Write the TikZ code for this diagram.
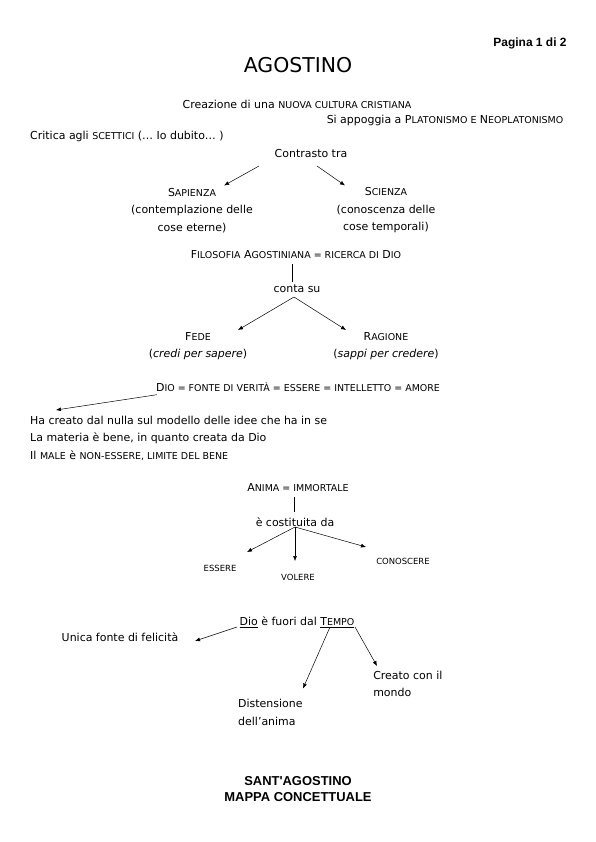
\documentclass[tikz,border=0pt]{standalone}
\usepackage{fontspec}
\setmainfont{DejaVu Sans}
\newfontfamily\headfont{Liberation Sans}
\usetikzlibrary{positioning, calc, arrows.meta}
\newcommand{\sk}[1]{{\fontsize{9.5}{17.5}\selectfont #1}}
\newcommand{\skk}[1]{{\fontsize{8.5}{12}\selectfont #1}}

\begin{document}
\begin{tikzpicture}[x=1bp, y=-1bp, >={Latex[length=5pt,width=4pt]}, line width=0.5pt]
        \tikzstyle{txt}=[inner sep=1pt, font=\fontsize{11}{17.5}\selectfont];
        \tikzstyle{block}=[txt, align=center];
        \tikzstyle{head}=[inner sep=1pt, font=\headfont\bfseries\fontsize{13}{16}\selectfont, align=center];
        \useasboundingbox (0,0) rectangle (596,842);

        % testata
        \node[head, font=\headfont\bfseries\fontsize{12}{14}\selectfont] (pagina) at (530,43) {Pagina 1 di 2};
        \node[inner sep=1pt, font=\fontsize{20.5}{24}\selectfont] (titolo) at (298,65) {AGOSTINO};

        % premesse
        \node[txt] (creazione) at (297,104) {Creazione di una \sk{NUOVA CULTURA CRISTIANA}};
        \node[txt] (appoggia) at (445,120) {Si appoggia a P\sk{LATONISMO E} N\sk{EOPLATONISMO}};
        \node[txt, anchor=west] (critica) at (29,136) {Critica agli \sk{SCETTICI} (\dots{} Io dubito\dots{} )};
        \node[txt] (contrasto) at (311,154) {Contrasto tra};
        \node[block] (sapienza) at (192,210.5) {S\sk{APIENZA}\\(contemplazione delle\\cose eterne)};
        \node[block] (scienza) at (386,210.5) {S\sk{CIENZA}\\(conoscenza delle\\cose temporali)};

        % filosofia
        \node[txt] (filosofia) at (296,255) {F\sk{ILOSOFIA} A\sk{GOSTINIANA = RICERCA DI} D\sk{IO}};
        \node[txt] (contasu) at (297,289) {conta su};
        \node[block] (fede) at (198,346) {F\sk{EDE}\\(\textit{credi per sapere})};
        \node[block] (ragione) at (386,346) {R\sk{AGIONE}\\(\textit{sappi per credere})};

        % dio
        \node[txt] (dio) at (298,387) {D\sk{IO = FONTE DI VERITÀ = ESSERE = INTELLETTO = AMORE}};
        \node[txt, anchor=west] (creato) at (29,420) {Ha creato dal nulla sul modello delle idee che ha in se};
        \node[txt, anchor=west] (materia) at (29,438) {La materia è bene, in quanto creata da Dio};
        \node[txt, anchor=west] (male) at (29,456) {Il \sk{MALE} è \sk{NON-ESSERE, LIMITE DEL BENE}};

        % anima
        \node[txt] (anima) at (298,488) {A\sk{NIMA = IMMORTALE}};
        \node[txt] (costituita) at (295,522) {è costituita da};
        \node[txt] (essere) at (220,568) {\skk{ESSERE}};
        \node[txt] (volere) at (298,577) {\skk{VOLERE}};
        \node[txt] (conoscere) at (403,561) {\skk{CONOSCERE}};

        % tempo
        \node[txt] (tempo) at (297,622) {\underline{Dio} è fuori dal \underline{T\sk{EMPO}}};
        \node[txt] (unica) at (120,637) {Unica fonte di felicità};
        \node[block, align=left, anchor=west] (mondo) at (372,684) {Creato con il\\mondo};
        \node[block, align=left, anchor=west] (distensione) at (237,712.5) {Distensione\\dell'anima};

        % chiusura
        \node[head] (mappa) at (298,789) {SANT'AGOSTINO\\MAPPA CONCETTUALE};

        \path[->]
        ($(contrasto)+(-52,12)$) edge ($(sapienza)+(32,-25)$)
        ($(contrasto)+(6,12)$) edge ($(scienza)+(-41,-25)$)
        ($(contasu)+(-3,8)$) edge ($(fede)+(40,-16)$)
        ($(contasu)+(-3,8)$) edge ($(ragione)+(-40,-16)$)
        ($(dio.south west)+(2,2)$) edge ($(creato.west)+(27,-10)$)
        ($(costituita)+(0,5)$) edge ($(essere)+(27,-16)$)
        ($(costituita)+(0,5)$) edge ($(volere)+(-3,-16)$)
        ($(costituita)+(0,5)$) edge ($(conoscere)+(-37,-14)$)
        ($(tempo)+(-60,5)$) edge ($(unica)+(75,4)$)
        ($(tempo)+(33,5)$) edge ($(distensione.west)+(66,-24)$)
        ($(tempo)+(58,5)$) edge ($(mondo.west)+(5,-18)$);

        \path
        ($(filosofia)+(-4,9)$) edge ($(contasu)+(-5,-7)$)
        ($(anima)+(-4,9)$) edge ($(costituita)+(-1,-10)$);
      \end{tikzpicture}
\end{document}
